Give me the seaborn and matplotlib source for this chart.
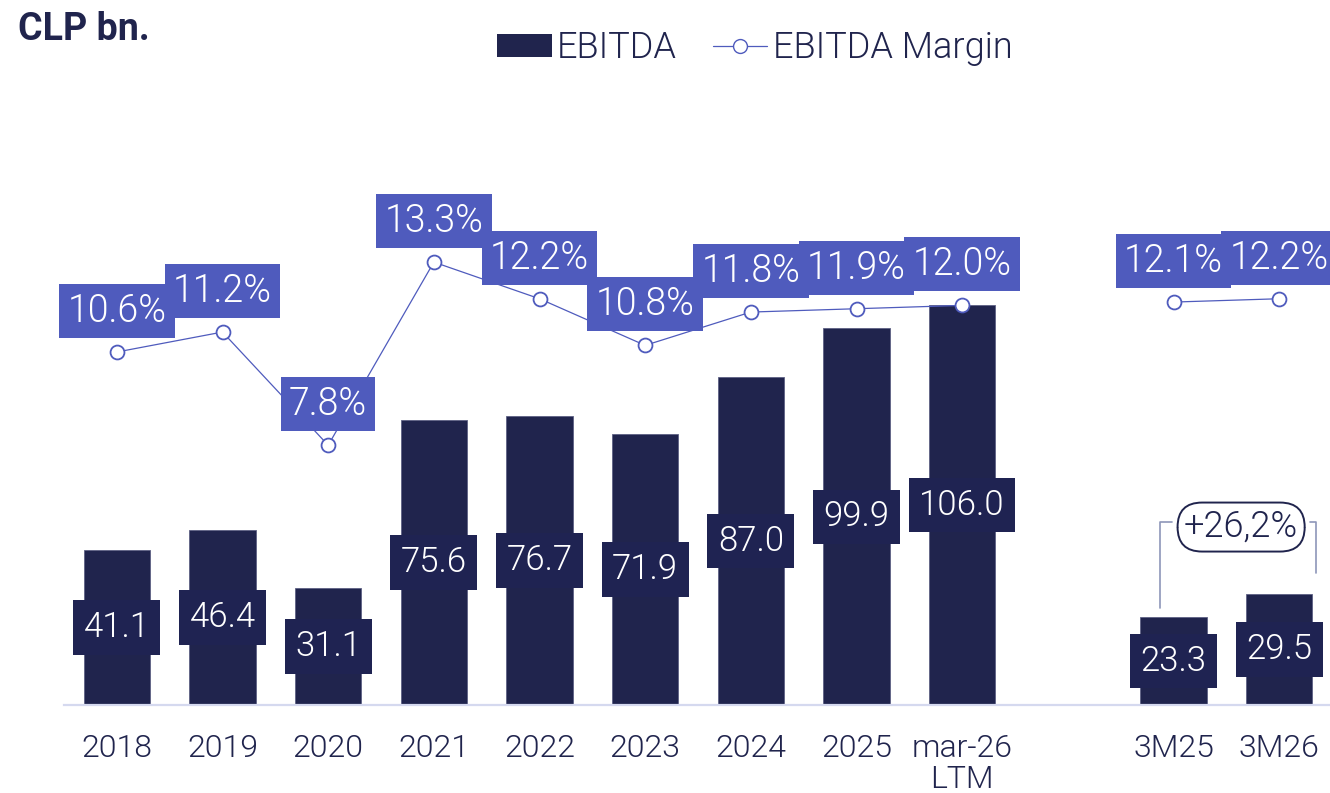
import numpy as np
import pandas as pd
import matplotlib
matplotlib.use("Agg")
import matplotlib.pyplot as plt
from matplotlib.lines import Line2D
from matplotlib.patches import Patch
import seaborn as sns

# ---- data -------------------------------------------------------------
annual_labels = ["2018", "2019", "2020", "2021", "2022", "2023", "2024", "2025", "mar-26\nLTM"]
quarter_labels = ["3M25", "3M26"]
ebitda_annual = [41.1, 46.4, 31.1, 75.6, 76.7, 71.9, 87.0, 99.9, 106.0]
ebitda_quarter = [23.3, 29.5]
margin_annual = [10.6, 11.2, 7.8, 13.3, 12.2, 10.8, 11.8, 11.9, 12.0]
margin_quarter = [12.1, 12.2]
growth_label = "+26,2%"

# ---- style ------------------------------------------------------------
NAVY = "#20244d"
BLUE = "#4f5bbd"
BRACKET = "#8d96b9"
BASELINE = "#d5d9ef"
LIGHT = 300

sns.set_style("white")
plt.rcParams["font.family"] = ["Roboto", "DejaVu Sans"]

# positions: annual bars, one empty slot, then the quarterly pair
n_a, n_q = len(annual_labels), len(quarter_labels)
pos_a = np.arange(n_a)
pos_q = np.arange(n_q) + n_a + 1
positions = np.concatenate([pos_a, pos_q])
labels = annual_labels + quarter_labels
ebitda = ebitda_annual + ebitda_quarter
margin = margin_annual + margin_quarter

df = pd.DataFrame({"pos": positions, "ebitda": ebitda, "margin": margin})

W, H = 1330, 793
fig = plt.figure(figsize=(W / 100, H / 100), dpi=100)
ax = fig.add_axes([64 / W, 88 / H, 1268 / W, 605 / H])

sns.barplot(data=df, x="pos", y="ebitda", native_scale=True, width=0.63,
            color=NAVY, saturation=1, edgecolor="#5d6184", linewidth=0.6, ax=ax)

ax.set_xlim(-0.5, positions[-1] + 0.5)
ax.set_ylim(0, 605 / 3.77)
ax.set_xlabel("")
ax.set_ylabel("")
ax.set_yticks([])
ax.set_xticks(positions)
ax.set_xticklabels(labels, fontsize=23, color=NAVY, linespacing=1.1, fontweight=LIGHT)
ax.tick_params(axis="x", length=0, pad=21)
for side in ("top", "left", "right"):
    ax.spines[side].set_visible(False)
ax.spines["bottom"].set_color(BASELINE)
ax.spines["bottom"].set_linewidth(1.6)

# value labels centred on each bar
for x, v in zip(positions, ebitda):
    ax.text(x, v / 2, f"{v:.1f}", ha="center", va="center", fontsize=25,
            color="white", zorder=5, fontweight=LIGHT,
            bbox=dict(boxstyle="square,pad=0.3", fc="#1f2352", ec="none"))

# EBITDA margin on a secondary axis
ax2 = ax.twinx()
ax2.set_ylim(0, 605 / 33.3)
ax2.set_yticks([])
for side in ("top", "left", "right", "bottom"):
    ax2.spines[side].set_visible(False)

seg_kw = dict(color=BLUE, linewidth=0.9, marker="o", markersize=10,
              markerfacecolor="white", markeredgecolor=BLUE, markeredgewidth=1.3)
sns.lineplot(x=pos_a, y=margin_annual, ax=ax2, zorder=3, **seg_kw)
sns.lineplot(x=pos_q, y=margin_quarter, ax=ax2, zorder=3, **seg_kw)

for x, m in zip(positions, margin):
    ax2.annotate(f"{m:.1f}%", xy=(x, m), xytext=(0, 29.5), textcoords="offset points",
                 ha="center", va="center", fontsize=27, color="white", zorder=6,
                 fontweight=LIGHT,
                 bbox=dict(boxstyle="square,pad=0.22", fc=BLUE, ec="none"))

# growth bracket between the quarterly bars
q0, q1 = pos_q
v0, v1 = ebitda_quarter
top = 48.5
left_x, right_x = q0 - 0.13, q1 + 0.35
ax.plot([left_x, left_x, left_x + 0.12], [v0 + 2.4, top, top], color=BRACKET, lw=1.2, zorder=4)
ax.plot([right_x - 0.06, right_x, right_x], [top, top, v1 + 5.5], color=BRACKET, lw=1.2, zorder=4)
ax.text((q0 + q1) / 2 + 0.14, top - 1.3, growth_label, ha="center", va="center",
        fontsize=26, color=NAVY, zorder=6, fontweight=LIGHT,
        bbox=dict(boxstyle="round,pad=0.18,rounding_size=0.68", fc="white", ec=NAVY, lw=1.4))

# header
fig.text(18 / W, 1 - 30 / H, "CLP bn.", fontsize=27, fontweight="bold", color=NAVY,
         ha="left", va="center")

handles = [
    Patch(facecolor=NAVY, edgecolor="none", label="EBITDA"),
    Line2D([0], [0], color=BLUE, lw=0.9, marker="o", markersize=10,
           markerfacecolor="white", markeredgecolor=BLUE, label="EBITDA Margin"),
]
leg = fig.legend(handles=handles, loc="center", bbox_to_anchor=(755 / W, 1 - 48 / H),
                 ncol=2, frameon=False, fontsize=26, handlelength=1.5, handleheight=0.6,
                 handletextpad=0.15, columnspacing=1.0)
for t in leg.get_texts():
    t.set_color(NAVY)
    t.set_fontweight(LIGHT)

fig.savefig("out.png", dpi=100)
